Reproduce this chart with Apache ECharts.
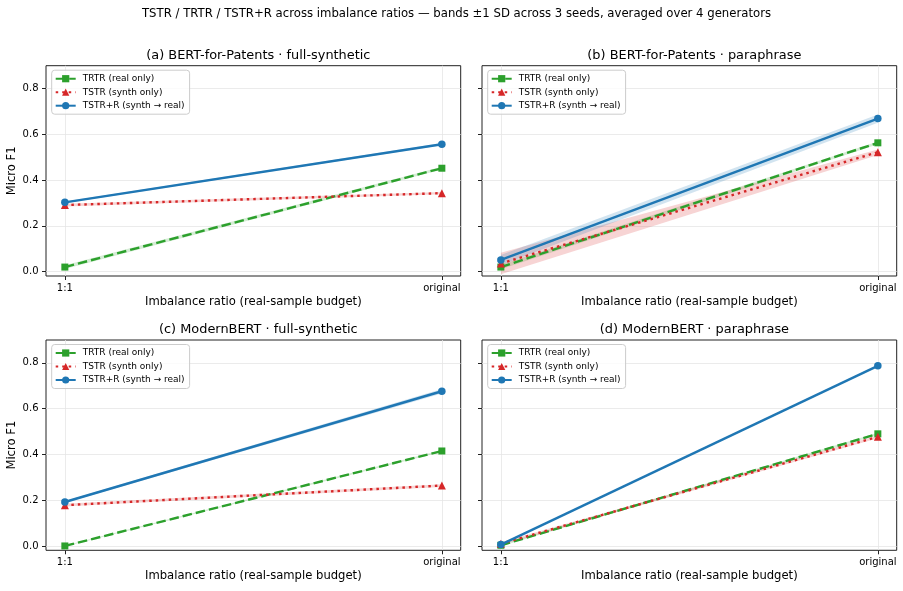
<!DOCTYPE html>
<html>
<head>
<meta charset="utf-8">
<script src="https://cdn.jsdelivr.net/npm/echarts@6/dist/echarts.min.js"></script>
<style>
  html, body { margin: 0; padding: 0; background: #fff; }
  #chart { width: 903px; height: 591px; }
</style>
</head>
<body>
<div id="chart"></div>
<script>
// x positions of the two budgets
const categories = ["1:1", "original"];
const yTicks = [0, 0.2, 0.4, 0.6, 0.8];

const panelTitles = [
  "(a) BERT-for-Patents · full-synthetic",
  "(b) BERT-for-Patents · paraphrase",
  "(c) ModernBERT · full-synthetic",
  "(d) ModernBERT · paraphrase",
];

const seriesNames = ["TRTR (real only)", "TSTR (synth only)", "TSTR+R (synth → real)"];

// means per panel (a, b, c, d)
const trtrMean = [[0.020, 0.452], [0.020, 0.563], [0.000, 0.415], [0.003, 0.490]];
const tstrMean = [[0.291, 0.343], [0.036, 0.522], [0.178, 0.264], [0.010, 0.477]];
const tstrrMean = [[0.303, 0.557], [0.051, 0.669], [0.192, 0.676], [0.006, 0.787]];

// ±1 SD per panel
const trtrSd = [[0.008, 0.006], [0.010, 0.006], [0.002, 0.004], [0.004, 0.005]];
const tstrSd = [[0.006, 0.005], [0.047, 0.012], [0.006, 0.006], [0.006, 0.006]];
const tstrrSd = [[0.004, 0.005], [0.022, 0.018], [0.004, 0.010], [0.003, 0.004]];

const colors = ["#2ca02c", "#d62728", "#1f77b4"];
const bandColors = ["rgba(44,160,44,0.2)", "rgba(214,39,40,0.2)", "rgba(31,119,180,0.2)"];
const symbols = ["rect", "triangle", "circle"];
const symbolSizes = [7, 8, 7.5];
const lineTypes = [[9.5, 4], [2.5, 4], "solid"];

const font = "DejaVu Sans";

// grid boxes
const gridLeft = [46, 482, 46, 482];
const gridTop = [65.7, 65.7, 340, 340];
const gridW = 414.7;
const gridH = 210.3;

const chart = echarts.init(document.getElementById("chart"), null, { renderer: "canvas" });

function bandItem(params, api) {
  const i = params.dataIndexInside;
  if (i + 1 >= params.dataInsideLength) return;
  const a = api.coord([api.value(0, i), api.value(1, i)]);
  const b = api.coord([api.value(0, i + 1), api.value(1, i + 1)]);
  const c = api.coord([api.value(0, i + 1), api.value(2, i + 1)]);
  const d = api.coord([api.value(0, i), api.value(2, i)]);
  return {
    type: "polygon",
    shape: { points: [a, b, c, d] },
    style: { fill: api.visual("color") },
    silent: true,
  };
}

const grids = [], xAxes = [], yAxes = [], titles = [], legends = [], series = [];

titles.push({
  text: "TSTR / TRTR / TSTR+R across imbalance ratios — bands ±1 SD across 3 seeds, averaged over 4 generators",
  left: 451.5,
  top: 3,
  textAlign: "center",
  textStyle: { fontFamily: font, fontSize: 11.7, fontWeight: "normal", color: "#000" },
});

for (let p = 0; p < 4; p++) {
  grids.push({
    left: gridLeft[p], top: gridTop[p], width: gridW, height: gridH,
    show: true, borderColor: "#222", borderWidth: 1, containLabel: false,
  });
  titles.push({
    text: panelTitles[p],
    left: gridLeft[p] + gridW / 2,
    top: gridTop[p] - 21.5,
    textAlign: "center",
    textStyle: { fontFamily: font, fontSize: 12.9, fontWeight: "normal", color: "#000" },
  });
  xAxes.push({
    type: "value", gridIndex: p, min: -0.05, max: 1.05,
    name: "Imbalance ratio (real-sample budget)",
    nameLocation: "middle", nameGap: 20,
    nameTextStyle: { fontFamily: font, fontSize: 11.6, color: "#000" },
    axisLine: { show: false, onZero: false },
    axisTick: { show: true, customValues: [0, 1], length: 4, lineStyle: { color: "#222", width: 1 } },
    axisLabel: {
      customValues: [0, 1], margin: 7,
      fontFamily: font, fontSize: 10, color: "#000",
      formatter: (v) => categories[Math.round(v)],
    },
    splitLine: { show: true, lineStyle: { color: "#e6e6e6", width: 0.8 } },
  });
  const left = p % 2 === 0;
  yAxes.push({
    type: "value", gridIndex: p, min: -0.019, max: 0.9,
    name: left ? "Micro F1" : "",
    nameLocation: "middle", nameGap: 28,
    nameTextStyle: { fontFamily: font, fontSize: 11.6, color: "#000" },
    axisLine: { show: false, onZero: false },
    axisTick: { show: true, customValues: yTicks, length: 4, lineStyle: { color: "#222", width: 1 } },
    axisLabel: {
      show: left, customValues: yTicks, margin: 7.5,
      fontFamily: font, fontSize: 10, color: "#000",
      formatter: (v) => v.toFixed(1),
    },
    splitLine: { show: true, lineStyle: { color: "#e6e6e6", width: 0.8 } },
  });
  legends.push({
    data: seriesNames,
    orient: "vertical",
    left: gridLeft[p] + 5.7,
    top: gridTop[p] + 4.5,
    padding: [3, 5, 3, 3],
    itemWidth: 20, itemHeight: 9, itemGap: 2.5,
    backgroundColor: "rgba(255,255,255,0.8)",
    borderColor: "#cccccc", borderWidth: 1, borderRadius: 3,
    textStyle: { fontFamily: font, fontSize: 9, lineHeight: 11, color: "#000", padding: [0, 0, 0, 2] },
    selectedMode: false,
  });

  const means = [trtrMean[p], tstrMean[p], tstrrMean[p]];
  const sds = [trtrSd[p], tstrSd[p], tstrrSd[p]];
  for (let s = 0; s < 3; s++) {
    series.push({
      type: "custom", name: "band" + p + s,
      xAxisIndex: p, yAxisIndex: p,
      renderItem: bandItem,
      itemStyle: { color: bandColors[s] },
      encode: { x: 0, y: [1, 2] },
      data: means[s].map((m, i) => [i, m - sds[s][i], m + sds[s][i]]),
      silent: true, z: 1,
    });
    series.push({
      type: "line", name: seriesNames[s],
      xAxisIndex: p, yAxisIndex: p,
      data: means[s].map((m, i) => [i, m]),
      symbol: symbols[s], symbolSize: symbolSizes[s], showSymbol: true,
      itemStyle: { color: colors[s] },
      lineStyle: { color: colors[s], width: 2.4, type: lineTypes[s], cap: "butt" },
      animation: false, z: 2 + s,
    });
  }
}

chart.setOption({
  animation: false,
  title: titles,
  grid: grids,
  xAxis: xAxes,
  yAxis: yAxes,
  legend: legends,
  series: series,
});
</script>
</body>
</html>
